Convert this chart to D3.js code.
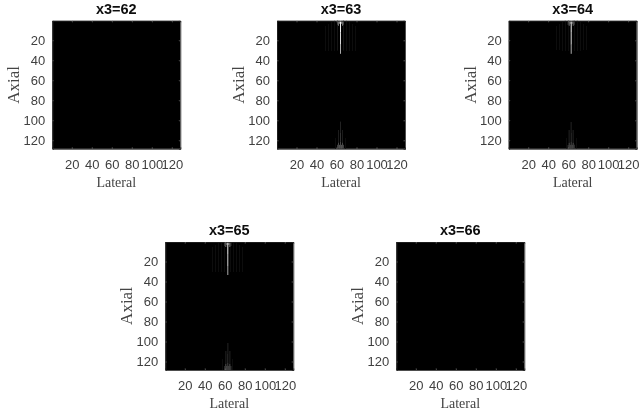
<!DOCTYPE html>
<html><head><meta charset="utf-8">
<script src="https://cdn.jsdelivr.net/npm/d3@7/dist/d3.min.js"></script>
<style>html,body{margin:0;padding:0;background:#fff}svg{display:block}</style>
</head><body><svg id="c" width="640" height="412">
<defs><filter id="soft" x="-5%" y="-5%" width="110%" height="110%"><feGaussianBlur stdDeviation="0.35"/></filter></defs>
</svg>
<script>
const titles = ["x3=62","x3=63","x3=64","x3=65","x3=66"];
const tickValues = [20,40,60,80,100,120];
const xLabel = "Lateral";
const yLabel = "Axial";
const panelLeft = [52.3,277,508.7,165.3,396.3];
const panelTop = [20.8,20.8,20.8,242,242];
const streakCenter = [null,64,63,63,null];
// streak rows: [lateral offset from centre, axial start, axial end, grey level]
const streakRows = [
 [-15,6,30,10],[-12,4,30,12],[-9,2,30,14],[-6,1,30,16],[-3,1,30,20],[3,1,30,20],[6,1,30,16],[9,2,30,14],[12,4,30,12],[15,6,30,10],
 [-2,1,5,110],[2,1,5,110],[-1,1,3,130],[1,1,3,130],[-3,1,4,70],[3,1,4,70],
 [0,1,12,240],[0,13,24,215],[0,25,33,170],
 [0,102,112,36],[0,113,121,50],[-2,110,128,30],[2,110,128,30],[-5,118,128,16],[5,118,128,16],
 [0,122,128,70],[-2,123,128,70],[2,123,128,70],[-1,125,128,80],[1,125,128,80],[-3,125,128,60],[3,125,128,60]
];
const svg = d3.select("#c");
const root = svg.append("g").attr("filter","url(#soft)");
const size = 128;
const sans = "Liberation Sans, Arial, sans-serif", serif = "Liberation Serif, serif";
titles.forEach((t,i)=>{
  const x = d3.scaleLinear().domain([0.5,128.5]).range([panelLeft[i],panelLeft[i]+size]);
  const y = d3.scaleLinear().domain([0.5,128.5]).range([panelTop[i],panelTop[i]+size]);
  const g = root.append("g");
  g.append("rect").attr("x",x(0.5)).attr("y",y(0.5)).attr("width",size).attr("height",size).attr("fill","#000");
  if (streakCenter[i] !== null) {
    g.selectAll("rect.s").data(streakRows).join("rect").attr("class","s")
      .attr("x",d=>x(streakCenter[i]+d[0]-0.5)).attr("width",d=>x(1.5)-x(0.5))
      .attr("y",d=>y(d[1]-0.5)).attr("height",d=>y(d[2]+0.5)-y(d[1]-0.5))
      .attr("fill",d=>d3.rgb(d[3],d[3],d[3]));
  }
  const L = panelLeft[i], T = panelTop[i];
  const bottom = g.append("g").attr("transform",`translate(0,${T+size})`).call(d3.axisBottom(x).tickValues(tickValues).tickSize(-1.5).tickPadding(11));
  const left = g.append("g").attr("transform",`translate(${L},0)`).call(d3.axisLeft(y).tickValues(tickValues).tickSize(-1.5).tickPadding(7));
  const top = g.append("g").attr("transform",`translate(0,${T})`).call(d3.axisTop(x).tickValues(tickValues).tickSize(-1.5).tickFormat(""));
  const right = g.append("g").attr("transform",`translate(${L+size},0)`).call(d3.axisRight(y).tickValues(tickValues).tickSize(-1.5).tickFormat(""));
  [bottom,left,top,right].forEach(a=>{
    a.select(".domain").attr("stroke","#222").attr("stroke-width",0.8);
    a.selectAll("line").attr("stroke","#666").attr("stroke-width",0.8);
    a.selectAll("text").attr("font-family",sans).attr("font-size",13).attr("fill","#3f3f3f");
  });
  g.append("text").attr("x",L+size/2).attr("y",T-7).attr("text-anchor","middle")
    .attr("font-family",sans).attr("font-weight","bold").attr("font-size",14.5).attr("fill","#111").text(t);
  g.append("text").attr("x",L+size/2).attr("y",T+size+38).attr("text-anchor","middle")
    .attr("font-family",serif).attr("font-size",14).attr("fill","#444").text(xLabel);
  g.append("text").attr("transform",`translate(${L-33},${T+size/2}) rotate(-90)`).attr("text-anchor","middle")
    .attr("font-family",serif).attr("font-size",17).attr("fill","#444").text(yLabel);
});
</script></body></html>
